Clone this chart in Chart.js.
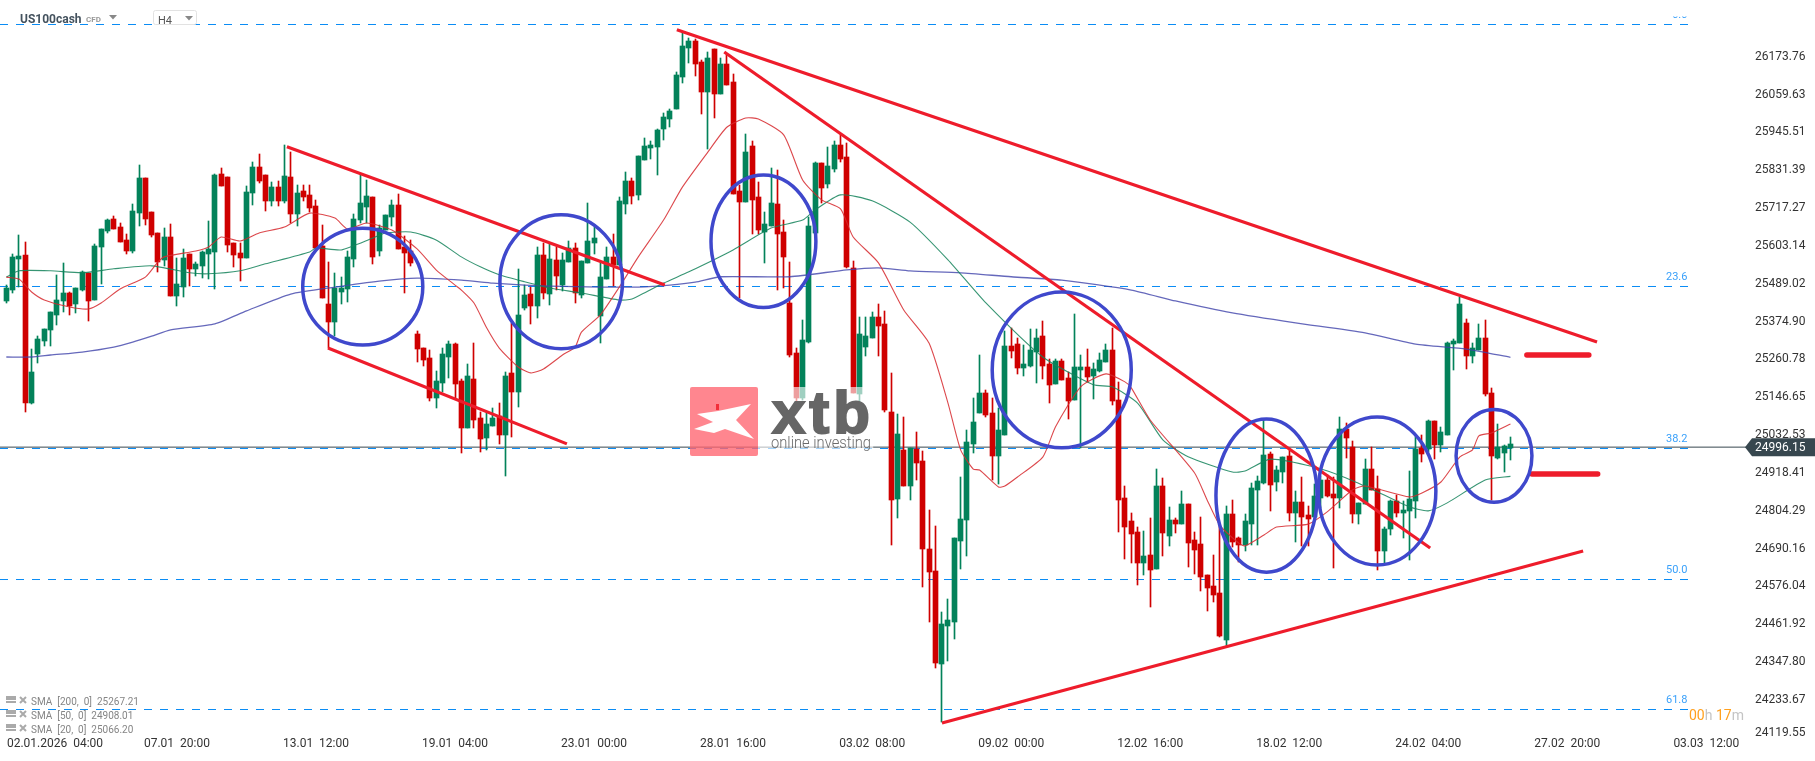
<!DOCTYPE html>
<html>
<head>
<meta charset="utf-8">
<title>US100cash H4</title>
<script src="https://cdn.jsdelivr.net/npm/chart.js@4/dist/chart.umd.js"></script>
<style>
  html, body { margin: 0; padding: 0; background: #fff; overflow: hidden; }
  canvas { display: block; }
</style>
</head>
<body>
<canvas id="chart" width="1815" height="761"></canvas>
<script>
// H4 candles, oldest first
const opens = [
  25437,25470,25564,25576,25129,25277,25316,25350,25395,25437,
  25461,25428,25470,25522,25440,25600,25648,25684,25660,25621,
  25588,25703,25808,25706,25642,25561,25630,25452,25479,25579,
  25534,25543,25579,25585,25820,25811,25612,25582,25567,25763,
  25841,25817,25739,25781,25739,25811,25699,25769,25757,25724,
  25603,25428,25374,25464,25473,25564,25681,25721,25751,25588,
  25651,25691,25727,25600,25588,25337,25295,25265,25144,25190,
  25268,25307,25196,25054,25202,25084,25024,25060,25090,25033,
  25220,25163,25415,25458,25422,25576,25458,25561,25485,25555,
  25597,25455,25552,25612,25392,25504,25570,25546,25730,25799,
  25757,25863,25899,25902,25956,25986,26016,26113,26200,26222,
  26158,26068,26197,26062,26152,26098,25769,25736,25905,25751,
  25645,25664,25730,25645,25431,25280,25144,25313,25642,25853,
  25790,25835,25908,25871,25537,25157,25298,25325,25389,25368,
  25102,24840,24988,24879,24991,24954,24689,24623,24342,24457,
  24469,24713,24776,25006,25099,25160,25099,24969,25033,25301,
  25307,25235,25241,25283,25331,25247,25187,25256,25205,25138,
  25229,25238,25211,25226,25253,25289,25138,24843,24773,24740,
  24647,24671,24629,24879,24728,24776,24764,24825,24716,24704,
  24610,24577,24556,24415,24794,24722,24701,24764,24867,24888,
  24975,24891,24921,24969,24797,24831,24791,24785,24843,24897,
  24855,24843,25051,24997,24795,24825,24930,24870,24683,24749,
  24834,24797,24804,24834,24994,24991,25075,25003,25033,25307,
  25310,25371,25271,25289,25325,25160,24963,24979,24994
];
const highs = [
  25485,25579,25636,25615,25292,25331,25353,25404,25515,25552,
  25464,25476,25528,25522,25609,25654,25684,25693,25672,25639,
  25730,25847,25808,25706,25642,25657,25669,25567,25594,25579,
  25555,25588,25678,25820,25838,25811,25612,25612,25784,25856,
  25880,25817,25796,25799,25908,25886,25787,25787,25787,25742,
  25666,25555,25522,25510,25588,25700,25817,25802,25751,25666,
  25696,25742,25760,25633,25621,25346,25295,25289,25226,25295,
  25316,25310,25202,25247,25310,25102,25099,25114,25129,25223,
  25370,25534,25485,25479,25600,25612,25612,25600,25582,25618,
  25612,25558,25733,25660,25552,25600,25639,25751,25826,25808,
  25874,25929,25920,25956,26004,26016,26128,26246,26231,26228,
  26164,26188,26197,26170,26179,26122,25787,25941,25920,25796,
  25706,25838,25832,25681,25555,25295,25380,25691,25856,25853,
  25901,25920,25938,25914,25558,25389,25389,25404,25428,25407,
  25220,25096,25087,24994,25042,24985,24807,24758,24499,24538,
  24722,24906,25048,25144,25274,25169,25144,25114,25346,25355,
  25325,25304,25352,25352,25377,25262,25262,25262,25223,25398,
  25274,25292,25250,25280,25307,25355,25193,24879,24797,24755,
  24743,24782,24930,24903,24815,24782,24864,24825,24740,24785,
  24610,24671,24761,24818,24836,24725,24794,24888,24909,25078,
  24981,24939,24966,24993,24864,24906,24818,24885,24909,24912,
  24906,25087,25069,25015,24828,24960,24997,24909,24755,24837,
  24852,24834,24924,25027,25033,25078,25075,25057,25313,25322,
  25449,25383,25310,25368,25380,25175,25066,25003,25027
];
const lows = [
  25431,25461,25479,25102,25126,25250,25301,25301,25365,25404,
  25395,25401,25467,25377,25440,25488,25642,25654,25615,25579,
  25582,25664,25666,25630,25525,25543,25452,25422,25449,25482,
  25513,25507,25504,25473,25784,25585,25540,25498,25567,25727,
  25793,25709,25724,25724,25733,25672,25664,25739,25706,25597,
  25446,25295,25331,25428,25434,25540,25672,25672,25549,25573,
  25651,25664,25594,25461,25543,25253,25241,25135,25114,25163,
  25205,25144,24979,25054,25054,24982,24988,25060,25006,24909,
  25027,25117,25410,25368,25386,25443,25425,25470,25467,25555,
  25431,25446,25552,25579,25310,25504,25482,25546,25699,25730,
  25742,25863,25866,25817,25923,25962,26016,26095,26155,26116,
  26001,25896,25989,26062,26089,25760,25446,25736,25639,25639,
  25552,25664,25470,25476,25268,25099,25138,25310,25642,25733,
  25778,25826,25856,25537,25160,25133,25271,25325,25271,25102,
  24701,24782,24879,24837,24897,24574,24469,24330,24167,24351,
  24417,24629,24668,24979,25099,25087,24897,24885,25033,25265,
  25217,25211,25238,25190,25202,25129,25187,25199,25081,25138,
  24994,25193,25141,25223,25253,25123,24740,24659,24647,24580,
  24611,24514,24629,24668,24698,24737,24764,24635,24614,24562,
  24502,24529,24424,24393,24695,24650,24683,24701,24701,24885,
  24803,24864,24888,24773,24710,24698,24698,24785,24813,24846,
  24632,24813,24963,24767,24764,24825,24867,24626,24647,24731,
  24785,24722,24656,24782,24951,24982,24960,24982,25033,25229,
  25310,25232,25250,25289,25151,24837,24960,24921,24957
];
const closes = [
  25476,25570,25573,25129,25223,25322,25353,25404,25440,25461,
  25422,25476,25525,25437,25603,25654,25681,25654,25615,25588,
  25709,25808,25684,25636,25555,25630,25452,25488,25567,25534,
  25549,25585,25594,25817,25784,25606,25576,25567,25766,25841,
  25799,25739,25781,25739,25814,25699,25763,25751,25718,25597,
  25446,25374,25476,25476,25570,25684,25733,25754,25570,25657,
  25696,25727,25594,25582,25552,25292,25259,25144,25196,25277,
  25307,25187,25054,25211,25078,25021,25066,25084,25033,25211,
  25163,25395,25455,25422,25576,25461,25564,25513,25561,25597,
  25461,25558,25618,25627,25510,25570,25546,25739,25799,25754,
  25874,25905,25908,25953,25992,26010,26119,26206,26222,26152,
  26068,26170,26062,26152,26089,25760,25736,25886,25742,25651,
  25669,25733,25639,25570,25274,25144,25319,25664,25853,25778,
  25844,25908,25866,25540,25160,25337,25331,25389,25362,25108,
  24837,25036,24879,24994,24948,24689,24620,24345,24463,24475,
  24722,24779,25012,25072,25160,25093,24969,25048,25301,25286,
  25235,25247,25289,25325,25241,25184,25256,25199,25135,25238,
  25238,25208,25232,25259,25289,25135,24837,24755,24734,24647,
  24668,24626,24879,24737,24776,24764,24825,24707,24686,24604,
  24571,24550,24427,24794,24710,24701,24773,24873,24894,24972,
  24882,24927,24966,24797,24831,24785,24779,24849,24897,24849,
  24843,25051,25024,24795,24828,24930,24867,24683,24749,24834,
  24797,24807,24840,24991,24975,25075,25003,25042,25310,25316,
  25428,25271,25295,25325,25157,24969,24997,25000,25006
];

// moving averages: candle number and value, sampled along each curve
const sma200At = [0,4,7,12,17,20,23,26,33,38,45,52,59,65,72,77,82,86,94,100,105,109,113,124,133,138,143,151,159,167,178,185,194,204,215,223,231,238];
const sma200 = [25268,25268,25274,25283,25298,25313,25331,25350,25368,25407,25458,25479,25497,25506,25500,25491,25485,25482,25479,25479,25485,25494,25510,25510,25531,25537,25528,25522,25510,25500,25470,25437,25401,25371,25341,25307,25292,25267];
const sma50At = [0,2,7,12,17,23,29,32,37,41,48,49,53,58,60,64,68,72,75,78,82,86,91,97,99,104,108,115,121,126,128,132,137,143,149,155,164,172,175,179,183,187,194,196,200,207,212,217,222,225,228,234,238];
const sma50 = [25509,25528,25528,25522,25534,25543,25522,25519,25528,25549,25585,25597,25591,25627,25642,25645,25621,25570,25540,25516,25495,25476,25461,25440,25443,25491,25525,25591,25657,25681,25712,25757,25739,25675,25561,25431,25268,25184,25178,25129,25018,24967,24921,24924,24960,24936,24903,24861,24816,24804,24828,24897,24908];
const sma20At = [0,2,4,6,10,13,15,18,22,24,25,30,32,34,37,40,44,48,52,54,57,61,65,68,71,72,74,76,78,81,83,85,88,90,91,94,97,100,104,107,111,114,117,119,123,126,129,132,134,138,142,146,149,151,153,154,157,158,160,164,166,170,174,177,178,181,188,190,192,195,196,199,201,206,209,213,215,222,224,227,230,232,233,235,238];
const sma20 = [25509,25503,25464,25440,25419,25413,25431,25473,25509,25555,25570,25588,25600,25630,25618,25642,25660,25702,25687,25654,25672,25651,25594,25531,25485,25470,25431,25356,25295,25238,25220,25232,25274,25298,25343,25395,25479,25570,25681,25781,25886,25961,25989,25986,25938,25802,25742,25715,25630,25552,25410,25310,25129,24988,24930,24927,24876,24879,24906,24966,25057,25178,25217,25193,25175,25078,24919,24837,24761,24707,24698,24731,24755,24764,24801,24867,24879,24846,24858,24891,24967,24988,25030,25039,25066];

// fibonacci retracement levels
const fibPrices = [26270.9, 25480.7, 24992.0, 24596.9, 24204.8];
const fibLabels = ['0.0', '23.6', '38.2', '50.0', '61.8'];
const fibEnd = 266.4;
const fibLabelAt = 266;

const lastPrice = 24996.15;
const lastPriceLabel = '24996.15';

// hand drawn trend lines: [candle, price, candle, price]
const trendLines = [
  [44.4, 25902, 104.2, 25485],
  [50.9, 25295, 88.7, 25006],
  [106.1, 26255, 251.7, 25313],
  [113.6, 26188, 225.3, 24692],
  [148.05, 24164, 249.5, 24683]
];
const shortLines = [
  [240.6, 25274, 250.4, 25274],
  [241.4, 24915, 251.8, 24915]
];
// hand drawn circles: candle, price, half width in candles, half height in price
const ovalAt = [56.4, 87.8, 119.8, 167, 199.4, 216.9, 235.4];
const ovalPrice = [25480, 25495, 25617, 25229, 24850, 24864, 24970];
const ovalHalfWidth = [9.5, 9.7, 8.3, 11, 8, 9.3, 6];
const ovalHalfHeight = [176, 202, 200, 235, 231, 223, 140];

const yTickValues = [26173.76,26059.63,25945.51,25831.39,25717.27,25603.14,25489.02,25374.90,25260.78,25146.65,25032.53,24918.41,24804.29,24690.16,24576.04,24461.92,24347.80,24233.67,24132.6];
const yTickLabels = ['26173.76','26059.63','25945.51','25831.39','25717.27','25603.14','25489.02','25374.90','25260.78','25146.65','25032.53','24918.41','24804.29','24690.16','24576.04','24461.92','24347.80','24233.67','24119.55'];
const xTickValues = [7.7,27,49,71,93,115,137,159,181,203,225,247,269];
const xTickLabels = ['02.01.2026  04:00','07.01  20:00','13.01  12:00','19.01  04:00','23.01  00:00','28.01  16:00','03.02  08:00','09.02  00:00','12.02  16:00','18.02  12:00','24.02  04:00','27.02  20:00','03.03  12:00'];
const smaLegend = ['SMA  [200,  0]  25267.21', 'SMA  [50,  0]  24908.01', 'SMA  [20,  0]  25066.20'];

const GREEN = '#03825a';
const RED = '#cf0000';
const MARKER_RED = '#ee1c2b';
const OVAL_BLUE = '#3f48cc';
const FIB_BLUE = '#0a8cf5';

const isUp = i => closes[i] >= opens[i];
const candleColors = opens.map((_, i) => isUp(i) ? GREEN : RED);

function lineSet(points, color, width, order, extra) {
    return Object.assign({
        type: 'line',
        data: points,
        borderColor: color,
        borderWidth: width,
        pointRadius: 0,
        order
    }, extra);
}

const zip = (xs, ys) => xs.map((x, i) => ({ x, y: ys[i] }));
const segment = s => [{ x: s[0], y: s[1] }, { x: s[2], y: s[3] }];

const datasets = [
    ...fibPrices.map(p => lineSet(segment([-1, p, fibEnd, p]), FIB_BLUE, 1, 20, { borderDash: [8, 8] })),
    lineSet(segment([-1, lastPrice, 275.43, lastPrice]), '#37474f', 1, 19),
    {
        type: 'bar',
        data: opens.map((_, i) => ({ x: i, y: [lows[i], highs[i]] })),
        backgroundColor: candleColors,
        barThickness: 1,
        grouped: false,
        order: 11
    },
    {
        type: 'bar',
        data: opens.map((o, i) => ({ x: i, y: [o, closes[i]] })),
        backgroundColor: candleColors,
        barThickness: 5,
        grouped: false,
        order: 10
    },
    lineSet(zip(sma200At, sma200), 'rgba(62, 66, 170, 0.8)', 1.3, 5, { tension: 0.2 }),
    lineSet(zip(sma50At, sma50), 'rgba(20, 130, 90, 0.85)', 1.1, 4, { tension: 0.2 }),
    lineSet(zip(sma20At, sma20), 'rgba(214, 40, 45, 0.85)', 1.1, 3, { tension: 0.2 }),
    ...trendLines.map(s => lineSet(segment(s), MARKER_RED, 3.2, 2)),
    ...shortLines.map(s => lineSet(segment(s), MARKER_RED, 5.5, 2, { borderCapStyle: 'round' }))
];

// bars land on fractional pixels with this spacing, snap them so they stay crisp
const snapBars = {
    id: 'snapBars',
    beforeDatasetDraw(chart, args) {
        if (args.meta.type !== 'bar') return;
        args.meta.data.forEach(el => {
            el.x = Math.floor(el.x) + 0.5;
            el.y = Math.round(el.y);
            el.base = Math.round(el.base);
        });
    }
};

function drawLogo(ctx) {
    // the watermark sits over the candles and washes them out
    ctx.fillStyle = 'rgba(255, 255, 255, 0.62)';
    ctx.fillRect(758, 387, 115, 68);

    ctx.fillStyle = 'rgba(255, 100, 112, 0.78)';
    ctx.beginPath();
    ctx.roundRect(690, 387, 68, 69, 2);
    ctx.fill();

    ctx.fillStyle = '#fff';
    ctx.beginPath();
    [[697, 414], [718, 411], [751, 404], [736, 420], [754, 439], [725, 429], [714, 433], [694, 429], [713, 422]]
        .forEach((p, i) => i ? ctx.lineTo(p[0], p[1]) : ctx.moveTo(p[0], p[1]));
    ctx.closePath();
    ctx.fill();
    ctx.fillStyle = '#f22f3a';
    ctx.fillRect(716, 404, 3, 6);

    ctx.fillStyle = '#666';
    ctx.strokeStyle = '#666';
    ctx.lineWidth = 2;
    ctx.textAlign = 'left';
    ctx.textBaseline = 'alphabetic';
    ctx.font = 'bold 60px "Liberation Sans"';
    ctx.letterSpacing = '4px';
    ctx.fillText('xtb', 772, 433);
    ctx.strokeText('xtb', 772, 433);
    ctx.letterSpacing = '0px';
    ctx.fillStyle = 'rgba(90, 90, 90, 0.9)';
    ctx.font = '300 17px Roboto';
    ctx.fillText('online investing', 771, 448, 100);
}

function drawHeader(ctx) {
    ctx.textBaseline = 'alphabetic';
    ctx.textAlign = 'left';
    ctx.fillStyle = '#44525e';
    ctx.font = 'bold 12px Roboto';
    ctx.fillText('US100cash', 20, 23);
    ctx.fillStyle = '#999';
    ctx.font = 'bold 8px Roboto';
    ctx.fillText('CFD', 86, 22);

    ctx.fillStyle = '#fff';
    ctx.strokeStyle = '#e2e2e2';
    ctx.lineWidth = 1;
    ctx.beginPath();
    ctx.roundRect(153.5, 10.5, 43, 14, 2);
    ctx.fill();
    ctx.stroke();
    ctx.fillStyle = '#555';
    ctx.font = '11px Roboto';
    ctx.fillText('H4', 158, 24);

    ctx.fillStyle = '#888';
    [[109, 15], [185, 16]].forEach(t => {
        ctx.beginPath();
        ctx.moveTo(t[0], t[1]);
        ctx.lineTo(t[0] + 8, t[1]);
        ctx.lineTo(t[0] + 4, t[1] + 4.5);
        ctx.closePath();
        ctx.fill();
    });
}

function drawLegend(ctx) {
    smaLegend.forEach((text, i) => {
        const y = 701 + i * 14;
        ctx.fillStyle = '#aaa';
        ctx.fillRect(6, y - 5, 10, 4);
        ctx.fillRect(6, y, 10, 2);
        ctx.strokeStyle = '#aaa';
        ctx.lineWidth = 2;
        ctx.beginPath();
        ctx.moveTo(20, y - 4);
        ctx.lineTo(26, y + 2);
        ctx.moveTo(26, y - 4);
        ctx.lineTo(20, y + 2);
        ctx.stroke();
        ctx.fillStyle = '#858585';
        ctx.font = '10px Roboto';
        ctx.textAlign = 'left';
        ctx.textBaseline = 'middle';
        ctx.fillText(text, 31, y + 1);
    });
}

function drawTimer(ctx) {
    const parts = [['00', '#ffa01e'], ['h', '#c4c4c4'], [' ', '#fff'], ['17', '#ffa01e'], ['m', '#c4c4c4']];
    let x = 1689;
    ctx.font = '14px Roboto';
    ctx.textAlign = 'left';
    ctx.textBaseline = 'middle';
    parts.forEach(p => {
        ctx.fillStyle = p[1];
        ctx.fillText(p[0], x, 716);
        x += ctx.measureText(p[0]).width;
    });
}

const overlay = {
    id: 'overlay',
    afterDatasetsDraw(chart) {
        const ctx = chart.ctx;
        const xs = chart.scales.x;
        const ys = chart.scales.y;
        ctx.save();

        ctx.strokeStyle = OVAL_BLUE;
        ctx.lineWidth = 3.5;
        ovalAt.forEach((c, i) => {
            const cx = xs.getPixelForValue(c);
            const cy = ys.getPixelForValue(ovalPrice[i]);
            const rx = xs.getPixelForValue(c + ovalHalfWidth[i]) - cx;
            const ry = cy - ys.getPixelForValue(ovalPrice[i] + ovalHalfHeight[i]);
            ctx.beginPath();
            ctx.ellipse(cx, cy, rx, ry, 0, 0, Math.PI * 2);
            ctx.stroke();
        });

        ctx.font = '11px Roboto';
        ctx.fillStyle = '#39a0fa';
        ctx.textAlign = 'right';
        ctx.textBaseline = 'middle';
        const labelX = xs.getPixelForValue(fibLabelAt);
        fibPrices.forEach((p, i) => {
            const y = ys.getPixelForValue(p) - 9;
            ctx.save();
            ctx.beginPath();
            ctx.rect(1600, 16.5, 100, 740);
            ctx.clip();
            ctx.fillText(fibLabels[i], labelX, y);
            ctx.restore();
        });

        drawLogo(ctx);
        drawHeader(ctx);
        drawLegend(ctx);
        drawTimer(ctx);

        ctx.restore();
    },
    afterDraw(chart) {
        // last price tag sits on top of the axis labels
        const ctx = chart.ctx;
        const y = chart.scales.y.getPixelForValue(lastPrice);
        ctx.save();
        ctx.fillStyle = '#37474f';
        ctx.beginPath();
        ctx.moveTo(1745, y);
        ctx.lineTo(1752, y - 9);
        ctx.lineTo(1815, y - 9);
        ctx.lineTo(1815, y + 9);
        ctx.lineTo(1752, y + 9);
        ctx.closePath();
        ctx.fill();
        ctx.fillStyle = '#fff';
        ctx.font = '12px Roboto';
        ctx.textAlign = 'left';
        ctx.textBaseline = 'middle';
        ctx.fillText(lastPriceLabel, 1755, y + 0.5);
        ctx.restore();
    }
};

Chart.defaults.font.family = 'Roboto';

// the axes must not push the plot in for their end labels, the plot runs edge to edge
function noEndPadding(s) {
    s.paddingTop = 0;
    s.paddingBottom = 0;
    s.paddingLeft = 0;
    s.paddingRight = 0;
}

new Chart(document.getElementById('chart'), {
    type: 'bar',
    data: { datasets },
    plugins: [snapBars, overlay],
    options: {
        responsive: false,
        animation: false,
        layout: { padding: 0 },
        plugins: { legend: { display: false }, tooltip: { enabled: false } },
        scales: {
            x: {
                type: 'linear',
                offset: false,
                min: -1,
                max: 275.43,
                grid: { display: false, drawTicks: false },
                border: { display: false },
                afterFit: s => { s.height = 26; noEndPadding(s); },
                afterBuildTicks: s => { s.ticks = xTickValues.map(value => ({ value })); },
                ticks: {
                    autoSkip: false,
                    maxRotation: 0,
                    padding: 2,
                    color: '#333',
                    font: { size: 12 },
                    callback: (v, i) => xTickLabels[i]
                }
            },
            y: {
                type: 'linear',
                position: 'right',
                min: 24127.9,
                max: 26344.8,
                grid: { display: false, drawTicks: false },
                border: { display: false },
                afterFit: s => { s.width = 68; noEndPadding(s); },
                afterBuildTicks: s => { s.ticks = yTickValues.map(value => ({ value })); },
                ticks: {
                    autoSkip: false,
                    padding: 8,
                    color: '#333',
                    font: { size: 12 },
                    callback: (v, i) => yTickLabels[i]
                }
            }
        }
    }
});
</script>
</body>
</html>
